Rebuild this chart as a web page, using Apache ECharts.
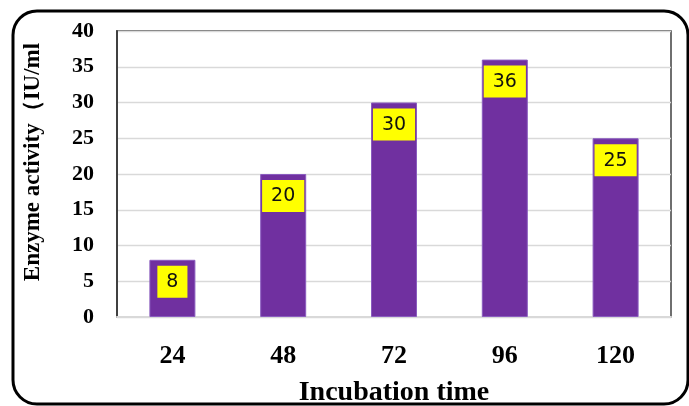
<!DOCTYPE html>
<html>
<head>
<meta charset="utf-8">
<script src="https://cdn.jsdelivr.net/npm/echarts@6/dist/echarts.min.js"></script>
<style>
html,body{margin:0;padding:0;background:#fff;}
#chart{width:689px;height:406px;}
</style>
</head>
<body>
<div id="chart"></div>
<script>
var categories = ['24', '48', '72', '96', '120'];
var values = [8, 20, 30, 36, 25];
var yTicks = { min: 0, max: 40, interval: 5 };
var xTitle = 'Incubation time';
var yTitle = 'Enzyme activity（IU/ml';

var serif = "'Liberation Serif','Times New Roman',serif";
var chart = echarts.init(document.getElementById('chart'), null, { renderer: 'canvas' });
chart.setOption({
  animation: false,
  backgroundColor: '#ffffff',
  grid: {
    left: 117, right: 18, top: 31, bottom: 89,
    outerBoundsMode: 'none',
    containLabel: false,
    show: true, borderColor: '#404040', borderWidth: 1.5, backgroundColor: 'transparent'
  },
  xAxis: {
    type: 'category',
    data: categories,
    name: xTitle,
    nameLocation: 'middle',
    nameGap: 62,
    nameTextStyle: { fontFamily: serif, fontWeight: 'bold', fontSize: 28, color: '#000' },
    axisLine: { show: true, lineStyle: { color: '#d9d9d9', width: 2 } },
    axisTick: { show: false },
    axisLabel: { fontFamily: serif, fontWeight: 'bold', fontSize: 26, color: '#000', margin: 26 }
  },
  yAxis: {
    type: 'value',
    min: yTicks.min, max: yTicks.max, interval: yTicks.interval,
    axisLine: { show: true, lineStyle: { color: '#404040', width: 2 } },
    axisTick: { show: false },
    splitLine: { show: true, lineStyle: { color: '#d9d9d9', width: 1.3 } },
    axisLabel: { fontFamily: serif, fontWeight: 'bold', fontSize: 22, color: '#000', margin: 23 }
  },
  series: [{
    type: 'bar',
    data: values,
    barWidth: 46,
    itemStyle: { color: '#7030A0', borderColor: '#8a5cbf', borderWidth: 1 },
    label: {
      show: true,
      position: 'insideTop',
      distance: 6,
      backgroundColor: '#FFFF00',
      padding: [5, 9, 4, 9],
      lineHeight: 23,
      color: '#111',
      fontFamily: "'DejaVu Sans',Verdana,sans-serif",
      fontSize: 19
    }
  }],
  graphic: [
    {
      type: 'rect',
      shape: { x: 13, y: 11, width: 675, height: 393, r: 24 },
      style: { fill: 'none', stroke: '#000', lineWidth: 3 },
      silent: true
    },
    {
      type: 'text',
      x: 33, y: 162,
      rotation: Math.PI / 2,
      style: {
        text: yTitle,
        fontFamily: serif, fontWeight: 'bold', fontSize: 23, fill: '#000',
        align: 'center', verticalAlign: 'middle'
      }
    }
  ]
});
</script>
</body>
</html>
